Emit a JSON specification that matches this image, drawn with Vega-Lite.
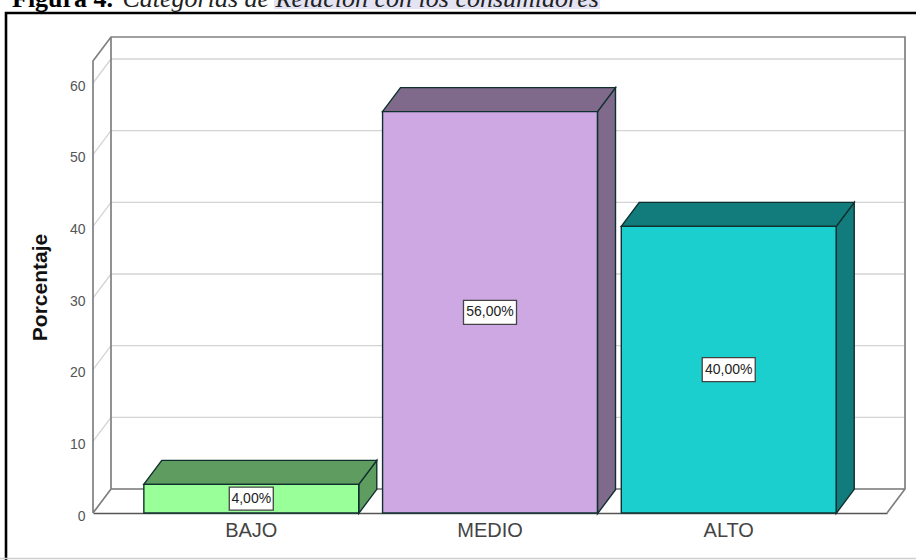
{
  "$schema": "https://vega.github.io/schema/vega-lite/v6.json",
  "width": 911,
  "height": 546,
  "padding": {"left": 5, "top": 13, "right": 0, "bottom": 1},
  "autosize": {"type": "none"},
  "background": "white",
  "title": {
    "text": "Figura 4.",
    "subtitle": "\u200b\u00a0\u00a0\u00a0\u00a0\u00a0\u00a0\u00a0\u00a0\u00a0\u00a0\u00a0\u00a0\u00a0\u00a0\u00a0\u00a0\u00a0Categorías de Relación con los consumidores",
    "anchor": "start",
    "frame": "group",
    "font": "Liberation Serif",
    "fontWeight": "bold",
    "fontSize": 26,
    "color": "#000000",
    "subtitleFont": "Liberation Serif",
    "subtitleFontStyle": "italic",
    "subtitleFontSize": 26,
    "subtitleColor": "#222222",
    "offset": -12,
    "subtitlePadding": -26,
    "dx": 7
  },
  "data": {
    "name": "categorias",
    "values": [
      {"categoria": "BAJO", "porcentaje": 4, "etiqueta": "4,00%"},
      {"categoria": "MEDIO", "porcentaje": 56, "etiqueta": "56,00%"},
      {"categoria": "ALTO", "porcentaje": 40, "etiqueta": "40,00%"}
    ]
  },
  "datasets": {
    "marcas": [{"nivel": 0}, {"nivel": 10}, {"nivel": 20}, {"nivel": 30}, {"nivel": 40}, {"nivel": 50}, {"nivel": 60}]
  },
  "config": {"view": {"stroke": null}},
  "layer": [
    {
      "description": "Pale band behind part of the caption",
      "data": {"values": [{"nivel": 0}]},
      "mark": {
        "type": "point",
        "size": 4,
        "filled": true,
        "opacity": 1,
        "fill": "#e3e3f3",
        "strokeWidth": 0,
        "shape": "M-216,-513L110,-513L110,-504L-216,-504Z"
      },
      "encoding": {
        "x": {"datum": "MEDIO", "type": "nominal"},
        "y": {"field": "nivel", "type": "quantitative"}
      }
    },
    {
      "description": "Page frame around the figure: heavy top and left edges, faint bottom edge",
      "data": {"values": [{"nivel": 0}]},
      "layer": [
        {
          "mark": {
            "type": "point",
            "size": 4,
            "filled": false,
            "opacity": 1,
            "stroke": "#000000",
            "strokeWidth": 2.6,
            "shape": "M-484,47L-484,-500L430,-500"
          },
          "encoding": {
            "x": {"datum": "MEDIO", "type": "nominal"},
            "y": {"field": "nivel", "type": "quantitative"}
          }
        },
        {
          "mark": {
            "type": "point",
            "size": 4,
            "filled": false,
            "opacity": 1,
            "stroke": "#cfcfcf",
            "strokeWidth": 1.5,
            "shape": "M-490,45.5L430,45.5"
          },
          "encoding": {
            "x": {"datum": "MEDIO", "type": "nominal"},
            "y": {"field": "nivel", "type": "quantitative"}
          }
        }
      ]
    },
    {
      "description": "Grid lines on the back wall and the side wall",
      "data": {"name": "marcas"},
      "mark": {
        "type": "point",
        "size": 4,
        "filled": false,
        "opacity": 1,
        "stroke": "#d4d4d4",
        "strokeWidth": 1.3,
        "shape": "M-397,0L-379,-24L415,-24"
      },
      "encoding": {
        "x": {"datum": "MEDIO", "type": "nominal"},
        "y": {"field": "nivel", "type": "quantitative"}
      }
    },
    {
      "description": "Outline of the chart box: side wall, back wall, floor",
      "data": {"values": [{"nivel": 0}]},
      "mark": {
        "type": "point",
        "size": 4,
        "filled": false,
        "opacity": 1,
        "stroke": "#808080",
        "strokeWidth": 1.7,
        "shape": "M-397,0L-397,-452L-379,-476L415,-476L415,-24L397,0M-397,0L-379,-24L415,-24M-379,-24L-379,-476"
      },
      "encoding": {
        "x": {"datum": "MEDIO", "type": "nominal"},
        "y": {"field": "nivel", "type": "quantitative"}
      }
    },
    {
      "description": "Right side of each bar",
      "mark": {"type": "point", "size": 4, "filled": true, "opacity": 1, "stroke": "#10302f", "strokeWidth": 1.4},
      "encoding": {
        "x": {"field": "categoria", "type": "nominal"},
        "y": {"field": "porcentaje", "type": "quantitative"},
        "fill": {
          "field": "categoria",
          "type": "nominal",
          "legend": null,
          "scale": {"domain": ["BAJO", "MEDIO", "ALTO"], "range": ["#5f9c5f", "#7f6a8c", "#127b7b"]}
        },
        "shape": {
          "field": "categoria",
          "type": "nominal",
          "legend": null,
          "scale": {
            "domain": ["BAJO", "MEDIO", "ALTO"],
            "range": [
              "M107.5,0L125.5,-24L125.5,5L107.5,29Z",
              "M107.5,0L125.5,-24L125.5,378L107.5,402Z",
              "M107.5,0L125.5,-24L125.5,263L107.5,287Z"
            ]
          }
        }
      }
    },
    {
      "description": "Top of each bar",
      "mark": {
        "type": "point",
        "size": 4,
        "filled": true,
        "opacity": 1,
        "stroke": "#10302f",
        "strokeWidth": 1.4,
        "shape": "M-107.5,0L-89.5,-24L125.5,-24L107.5,0Z"
      },
      "encoding": {
        "x": {"field": "categoria", "type": "nominal"},
        "y": {"field": "porcentaje", "type": "quantitative"},
        "fill": {
          "field": "categoria",
          "type": "nominal",
          "legend": null,
          "scale": {"domain": ["BAJO", "MEDIO", "ALTO"], "range": ["#5f9c5f", "#7f6a8c", "#127b7b"]}
        }
      }
    },
    {
      "description": "Front of each bar",
      "mark": {"type": "bar", "stroke": "#10302f", "strokeWidth": 1.4},
      "encoding": {
        "x": {
          "field": "categoria",
          "type": "nominal",
          "title": null,
          "scale": {"domain": ["BAJO", "MEDIO", "ALTO"], "range": [88, 882], "paddingInner": 0.1, "paddingOuter": 0.213},
          "axis": {
            "offset": -46,
            "domain": true,
            "domainColor": "#555555",
            "domainWidth": 1.6,
            "ticks": false,
            "labelAngle": 0,
            "labelAlign": "center",
            "labelFont": "Liberation Sans",
            "labelFontSize": 20,
            "labelColor": "#444444",
            "labelPadding": 17
          }
        },
        "y": {
          "field": "porcentaje",
          "type": "quantitative",
          "title": "Porcentaje",
          "scale": {"domain": [0, 63.07], "range": [500, 48], "nice": false},
          "axis": {
            "offset": -88,
            "values": [0, 10, 20, 30, 40, 50, 60],
            "grid": false,
            "domain": false,
            "ticks": false,
            "labelFont": "Liberation Sans",
            "labelFontSize": 14,
            "labelColor": "#555555",
            "labelPadding": 8,
            "labelOffset": 3,
            "titleFont": "Liberation Sans",
            "titleFontWeight": "bold",
            "titleFontSize": 21,
            "titleColor": "#111111",
            "titlePadding": 19
          }
        },
        "fill": {
          "field": "categoria",
          "type": "nominal",
          "legend": null,
          "scale": {"domain": ["BAJO", "MEDIO", "ALTO"], "range": ["#99ff99", "#cea8e3", "#1bcfcf"]}
        }
      }
    },
    {
      "description": "Value labels in white boxes at the middle of each bar",
      "transform": [{"calculate": "datum.porcentaje / 2", "as": "centro"}],
      "layer": [
        {
          "mark": {
            "type": "point",
            "size": 4,
            "filled": true,
            "opacity": 1,
            "fill": "white",
            "stroke": "#444444",
            "strokeWidth": 1.3
          },
          "encoding": {
            "x": {"field": "categoria", "type": "nominal"},
            "y": {"field": "centro", "type": "quantitative"},
            "shape": {
              "field": "categoria",
              "type": "nominal",
              "legend": null,
              "scale": {
                "domain": ["BAJO", "MEDIO", "ALTO"],
                "range": [
                  "M-22,-11.5L22,-11.5L22,11.5L-22,11.5Z",
                  "M-26.5,-12L26.5,-12L26.5,12L-26.5,12Z",
                  "M-26.5,-12L26.5,-12L26.5,12L-26.5,12Z"
                ]
              }
            }
          }
        },
        {
          "mark": {"type": "text", "font": "Liberation Sans", "fontSize": 14, "color": "#222222", "baseline": "middle"},
          "encoding": {
            "x": {"field": "categoria", "type": "nominal"},
            "y": {"field": "centro", "type": "quantitative"},
            "text": {"field": "etiqueta"}
          }
        }
      ]
    }
  ],
  "resolve": {"scale": {"fill": "independent", "shape": "independent"}}
}
